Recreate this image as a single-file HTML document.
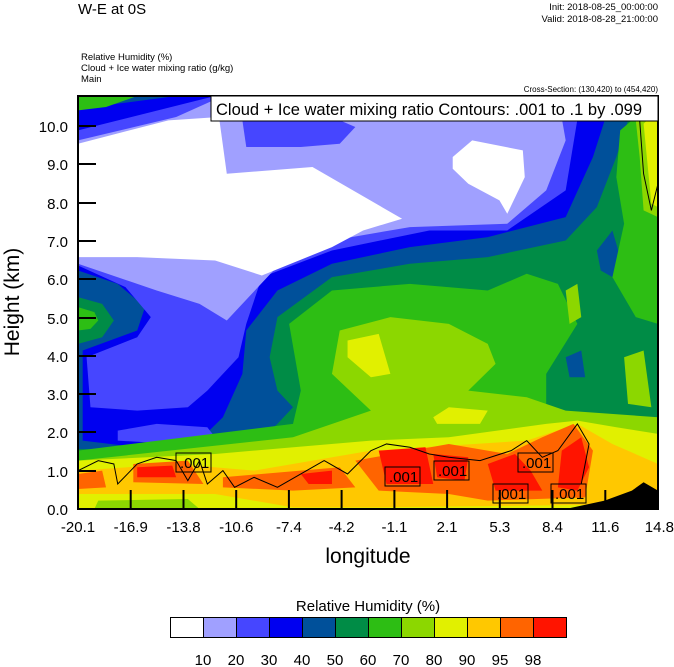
<!DOCTYPE html>
<html><head><meta charset="utf-8"><style>
html,body{margin:0;padding:0;background:#fff;}
svg{display:block;font-family:"Liberation Sans",sans-serif;}
</style></head><body>
<svg width="674" height="667" viewBox="0 0 674 667" xmlns="http://www.w3.org/2000/svg">
<rect width="674" height="667" fill="#fff"/>
<text x="78" y="14" font-size="15">W-E at 0S</text>
<text x="658" y="10" font-size="9.5" text-anchor="end">Init: 2018-08-25_00:00:00</text>
<text x="658" y="22" font-size="9.5" text-anchor="end">Valid: 2018-08-28_21:00:00</text>
<text x="81" y="60" font-size="9.5">Relative Humidity   (%)</text>
<text x="81" y="71" font-size="9.5">Cloud + Ice water mixing ratio   (g/kg)</text>
<text x="81" y="82" font-size="9.5">Main</text>
<text x="658" y="92" font-size="8" text-anchor="end">Cross-Section: (130,420) to (454,420)</text>
<defs><clipPath id="c"><rect x="48" y="17" width="1489" height="1238"/></clipPath></defs>
<g transform="translate(78,96) scale(0.38952,0.33360) translate(-48,-17)" clip-path="url(#c)">
<rect x="48" y="17" width="1489" height="1238" fill="#008c46"/>
<path fill="#00509a" d="M48,17 L1480,17 L1430,200 L1380,350 L1300,450 L1100,500 L900,520 L700,560 L560,680 L540,800 L560,900 L600,950 L560,1000 L500,1060 L300,1080 L48,1075Z"/>
<path fill="#00509a" d="M1380,480 L1420,420 L1440,500 L1420,560 L1390,540Z M1300,800 L1340,780 L1350,860 L1310,860Z"/>
<path fill="#0000f0" d="M48,60 L150,40 L300,17 L1420,17 L1370,200 L1300,380 L1100,440 L900,470 L700,520 L560,600 L480,720 L470,850 L420,980 L350,1060 L200,1070 L60,1050 L60,780 L200,720 L220,650 L150,580 L48,540Z"/>
<path fill="#2dbe14" d="M48,17 L200,17 L120,50 L48,60Z"/>
<path fill="#008c46" d="M48,620 L110,640 L140,690 L110,740 L48,760Z"/>
<path fill="#2dbe14" d="M48,650 L90,665 L100,690 L80,715 L48,720Z"/>
<path fill="#4646ff" d="M48,120 L400,17 L1340,17 L1300,300 L1150,420 L950,420 L700,480 L520,560 L480,700 L460,800 L380,900 L330,950 L200,960 L80,950 L70,800 L200,740 L235,680 L170,590 L48,525Z"/>
<path fill="#4646ff" d="M150,1020 L250,1000 L380,1010 L400,1040 L300,1060 L150,1050Z"/>
<path fill="#a0a0ff" d="M48,150 L300,80 L420,17 L1280,17 L1300,150 L1250,300 L1150,400 L900,410 L700,450 L550,540 L430,690 L360,640 L250,600 L48,520Z"/>
<path fill="#4646ff" d="M470,90 L700,80 L760,110 L720,160 L620,170 L480,170Z"/>
<path fill="#fff" d="M48,160 L280,90 L410,80 L430,250 L650,230 L880,385 L780,420 L700,470 L520,555 L400,510 L200,500 L48,500Z"/>
<path fill="#fff" d="M1010,200 L1060,150 L1190,180 L1195,260 L1150,370 L1130,330 L1050,280 L1010,235Z"/>
<path fill="#2dbe14" d="M590,700 L700,600 L900,580 L1100,600 L1200,550 L1280,580 L1330,700 L1250,850 L1250,950 L1340,1000 L1537,990 L1537,1255 L48,1255 L48,1080 L600,1000 L620,900Z"/>
<path fill="#2dbe14" d="M1440,120 L1500,60 L1537,60 L1537,700 L1480,680 L1420,560 L1450,400 L1430,260Z"/>
<path fill="#8cd700" d="M720,720 L850,680 L1000,700 L1100,760 L1120,820 L1050,900 L1200,920 L1300,960 L1537,980 L1537,1255 L48,1255 L48,1110 L600,1040 L800,960 L700,850Z"/>
<path fill="#8cd700" d="M1480,90 L1537,40 L1537,380 L1500,360 L1490,200Z M1300,600 L1330,580 L1340,680 L1310,700Z M1450,800 L1500,780 L1520,950 L1460,940Z"/>
<path fill="#e1f000" d="M1500,100 L1537,60 L1537,350 L1520,340Z M740,750 L820,730 L850,850 L800,860 L740,800Z M960,980 L1000,950 L1100,960 L1080,1000 L970,1000Z"/>
<path fill="#e1f000" d="M48,1110 L400,1090 L800,1050 L1000,1040 L1250,1000 L1330,990 L1430,1010 L1537,1030 L1537,1255 L48,1255Z"/>
<path fill="#ffc800" d="M48,1140 L300,1120 L500,1140 L800,1080 L1200,1050 L1330,1000 L1420,1060 L1537,1120 L1537,1240 L1200,1245 L800,1250 L600,1250 L400,1210 L48,1210Z"/>
<path fill="#8cd700" d="M100,1230 L330,1225 L360,1255 L90,1255Z"/>
<path fill="#ff6400" d="M48,1150 L110,1140 L120,1190 L48,1195Z M190,1120 L330,1110 L370,1180 L190,1175Z M420,1160 L720,1130 L760,1190 L600,1200 L420,1190Z M760,1110 L1000,1060 L1150,1090 L1240,1040 L1320,1000 L1370,1080 L1350,1220 L1100,1230 L1000,1210 L820,1200Z"/>
<path fill="#ff1400" d="M200,1130 L290,1125 L300,1160 L200,1160Z M820,1080 L940,1070 L960,1180 L840,1180Z M960,1090 L1050,1100 L1040,1170 L970,1160Z M1100,1120 L1170,1090 L1210,1140 L1240,1200 L1120,1200Z M1290,1080 L1340,1040 L1360,1130 L1330,1200 L1280,1190Z M620,1150 L700,1140 L700,1180 L640,1180Z"/>
<path fill="#000" d="M1300,1255 L1400,1230 L1470,1200 L1500,1175 L1537,1200 L1537,1255Z"/>
<g fill="none" stroke="#000" stroke-width="1">
<path vector-effect="non-scaling-stroke" d="M48,1140 L100,1110 L140,1120 L150,1180 L200,1120 L250,1100 L300,1110 L330,1170 L360,1110 L380,1180 L420,1140 L450,1190 L500,1160 L560,1190 L620,1150 L680,1110 L740,1150 L800,1080 L840,1060 L900,1070 L950,1090 L1000,1100 L1080,1110 L1160,1080 L1200,1050 L1240,1100 L1280,1080 L1330,1000 L1360,1060 L1340,1180"/>
<path vector-effect="non-scaling-stroke" d="M1490,90 L1500,250 L1520,360 L1537,280"/>
</g>
</g>
<g stroke="#000" stroke-width="1" fill="none">
<rect x="176" y="453" width="35" height="19"/><rect x="385" y="467" width="35" height="19"/><rect x="434" y="461" width="35" height="19"/><rect x="518" y="453" width="35" height="19"/><rect x="493" y="484" width="35" height="19"/><rect x="551" y="484" width="35" height="19"/>
</g>
<g font-size="15" fill="#000">
<text x="180" y="468">.001</text><text x="389" y="482">.001</text><text x="438" y="476">.001</text><text x="522" y="468">.001</text><text x="497" y="499">.001</text><text x="555" y="499">.001</text>
</g>
<rect x="78" y="96" width="580" height="413" fill="none" stroke="#000" stroke-width="2"/>
<rect x="211" y="96" width="447" height="25" fill="#fff" stroke="#000" stroke-width="1"/>
<text x="216" y="115" font-size="16.5">Cloud + Ice water mixing ratio Contours: .001 to .1 by .099</text>
<g stroke="#000" stroke-width="2">
<line x1="78" y1="126" x2="96" y2="126"/><line x1="78" y1="164" x2="96" y2="164"/><line x1="78" y1="203" x2="96" y2="203"/><line x1="78" y1="241" x2="96" y2="241"/><line x1="78" y1="279" x2="96" y2="279"/><line x1="78" y1="318" x2="96" y2="318"/><line x1="78" y1="356" x2="96" y2="356"/><line x1="78" y1="394" x2="96" y2="394"/><line x1="78" y1="432" x2="96" y2="432"/><line x1="78" y1="471" x2="96" y2="471"/>
<line x1="130.7" y1="509" x2="130.7" y2="490"/><line x1="183.5" y1="509" x2="183.5" y2="490"/><line x1="236.2" y1="509" x2="236.2" y2="490"/><line x1="288.9" y1="509" x2="288.9" y2="490"/><line x1="341.6" y1="509" x2="341.6" y2="490"/><line x1="394.4" y1="509" x2="394.4" y2="490"/><line x1="447.1" y1="509" x2="447.1" y2="490"/><line x1="499.8" y1="509" x2="499.8" y2="490"/><line x1="552.5" y1="509" x2="552.5" y2="490"/><line x1="605.3" y1="509" x2="605.3" y2="490"/>
</g>
<g font-size="15" text-anchor="end">
<text x="68" y="132">10.0</text><text x="68" y="170">9.0</text><text x="68" y="209">8.0</text><text x="68" y="247">7.0</text><text x="68" y="285">6.0</text><text x="68" y="324">5.0</text><text x="68" y="362">4.0</text><text x="68" y="400">3.0</text><text x="68" y="438">2.0</text><text x="68" y="477">1.0</text><text x="68" y="515">0.0</text>
</g>
<g font-size="15" text-anchor="middle">
<text x="78" y="532">-20.1</text><text x="130.7" y="532">-16.9</text><text x="183.5" y="532">-13.8</text><text x="236.2" y="532">-10.6</text><text x="288.9" y="532">-7.4</text><text x="341.6" y="532">-4.2</text><text x="394.4" y="532">-1.1</text><text x="447.1" y="532">2.1</text><text x="499.8" y="532">5.3</text><text x="552.5" y="532">8.4</text><text x="605.3" y="532">11.6</text>
</g>
<text x="674" y="532" font-size="15" text-anchor="end">14.8</text>
<text x="368" y="563" font-size="21" text-anchor="middle">longitude</text>
<text transform="translate(19,302) rotate(-90)" font-size="21" text-anchor="middle">Height (km)</text>
<text x="368" y="611" font-size="15" text-anchor="middle">Relative Humidity  (%)</text>
<g stroke="#000" stroke-width="1">
<rect x="170.5" y="617.5" width="33" height="20" fill="#fff"/><rect x="203.5" y="617.5" width="33" height="20" fill="#a0a0ff"/><rect x="236.5" y="617.5" width="33" height="20" fill="#4646ff"/><rect x="269.5" y="617.5" width="33" height="20" fill="#0000f0"/><rect x="302.5" y="617.5" width="33" height="20" fill="#00509a"/><rect x="335.5" y="617.5" width="33" height="20" fill="#008c46"/><rect x="368.5" y="617.5" width="33" height="20" fill="#2dbe14"/><rect x="401.5" y="617.5" width="33" height="20" fill="#8cd700"/><rect x="434.5" y="617.5" width="33" height="20" fill="#e1f000"/><rect x="467.5" y="617.5" width="33" height="20" fill="#ffc800"/><rect x="500.5" y="617.5" width="33" height="20" fill="#ff6400"/><rect x="533.5" y="617.5" width="33" height="20" fill="#ff1400"/>
</g>
<g font-size="15" text-anchor="middle">
<text x="203" y="665">10</text><text x="236" y="665">20</text><text x="269" y="665">30</text><text x="302" y="665">40</text><text x="335" y="665">50</text><text x="368" y="665">60</text><text x="401" y="665">70</text><text x="434" y="665">80</text><text x="467" y="665">90</text><text x="500" y="665">95</text><text x="533" y="665">98</text>
</g>
</svg>
</body></html>
